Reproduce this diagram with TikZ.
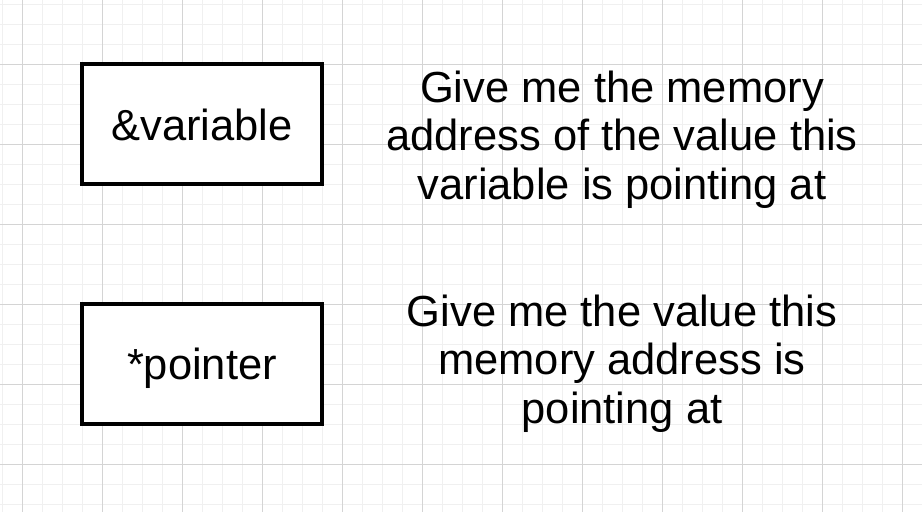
\documentclass[tikz,border=0pt]{standalone}
\usepackage{fontspec}
\setmainfont{Liberation Sans}
\definecolor{gridminor}{RGB}{240,240,240}
\definecolor{gridmajor}{RGB}{212,212,212}
\tikzset{
  opbox/.style={draw=black, line width=4pt, fill=white, minimum width=240pt, minimum height=120pt, inner sep=0pt, outer sep=0pt, anchor=north west},
  boxtext/.style={font=\fontsize{43.5pt}{48.5pt}\selectfont, inner sep=0pt, anchor=base},
  desc/.style={font=\fontsize{43.5pt}{48.5pt}\selectfont, inner sep=0pt, align=center, anchor=base},
}
\begin{document}
\begin{tikzpicture}[x=1pt,y=-1pt]
\useasboundingbox (0,0) rectangle (922,512);
\fill[white] (0,0) rectangle (922,512);
% minor grid
\foreach \x in {2,22,...,922} \draw[gridminor, line width=1pt] (\x,0) -- (\x,512);
\foreach \y in {4,24,...,512} \draw[gridminor, line width=1pt] (0,\y) -- (922,\y);
% major grid
\foreach \x in {22,102,...,922} \draw[gridmajor, line width=1pt] (\x,0) -- (\x,512);
\foreach \y in {64,144,...,512} \draw[gridmajor, line width=1pt] (0,\y) -- (922,\y);
% boxes
\node[opbox] (amp) at (82,64) {};
\node[boxtext] (amptext) at (202,140) {\&variable};
\node[opbox] (ptr) at (82,304) {};
\node[boxtext] (ptrtext) at (202,379) {*pointer};
% descriptions (base anchor = last line)
\node[desc] (ampdesc) at (622,199) {Give me the memory\\address of the value this\\variable is pointing at};
\node[desc] (ptrdesc) at (622,423) {Give me the value this\\memory address is\\pointing at};
\end{tikzpicture}
\end{document}
